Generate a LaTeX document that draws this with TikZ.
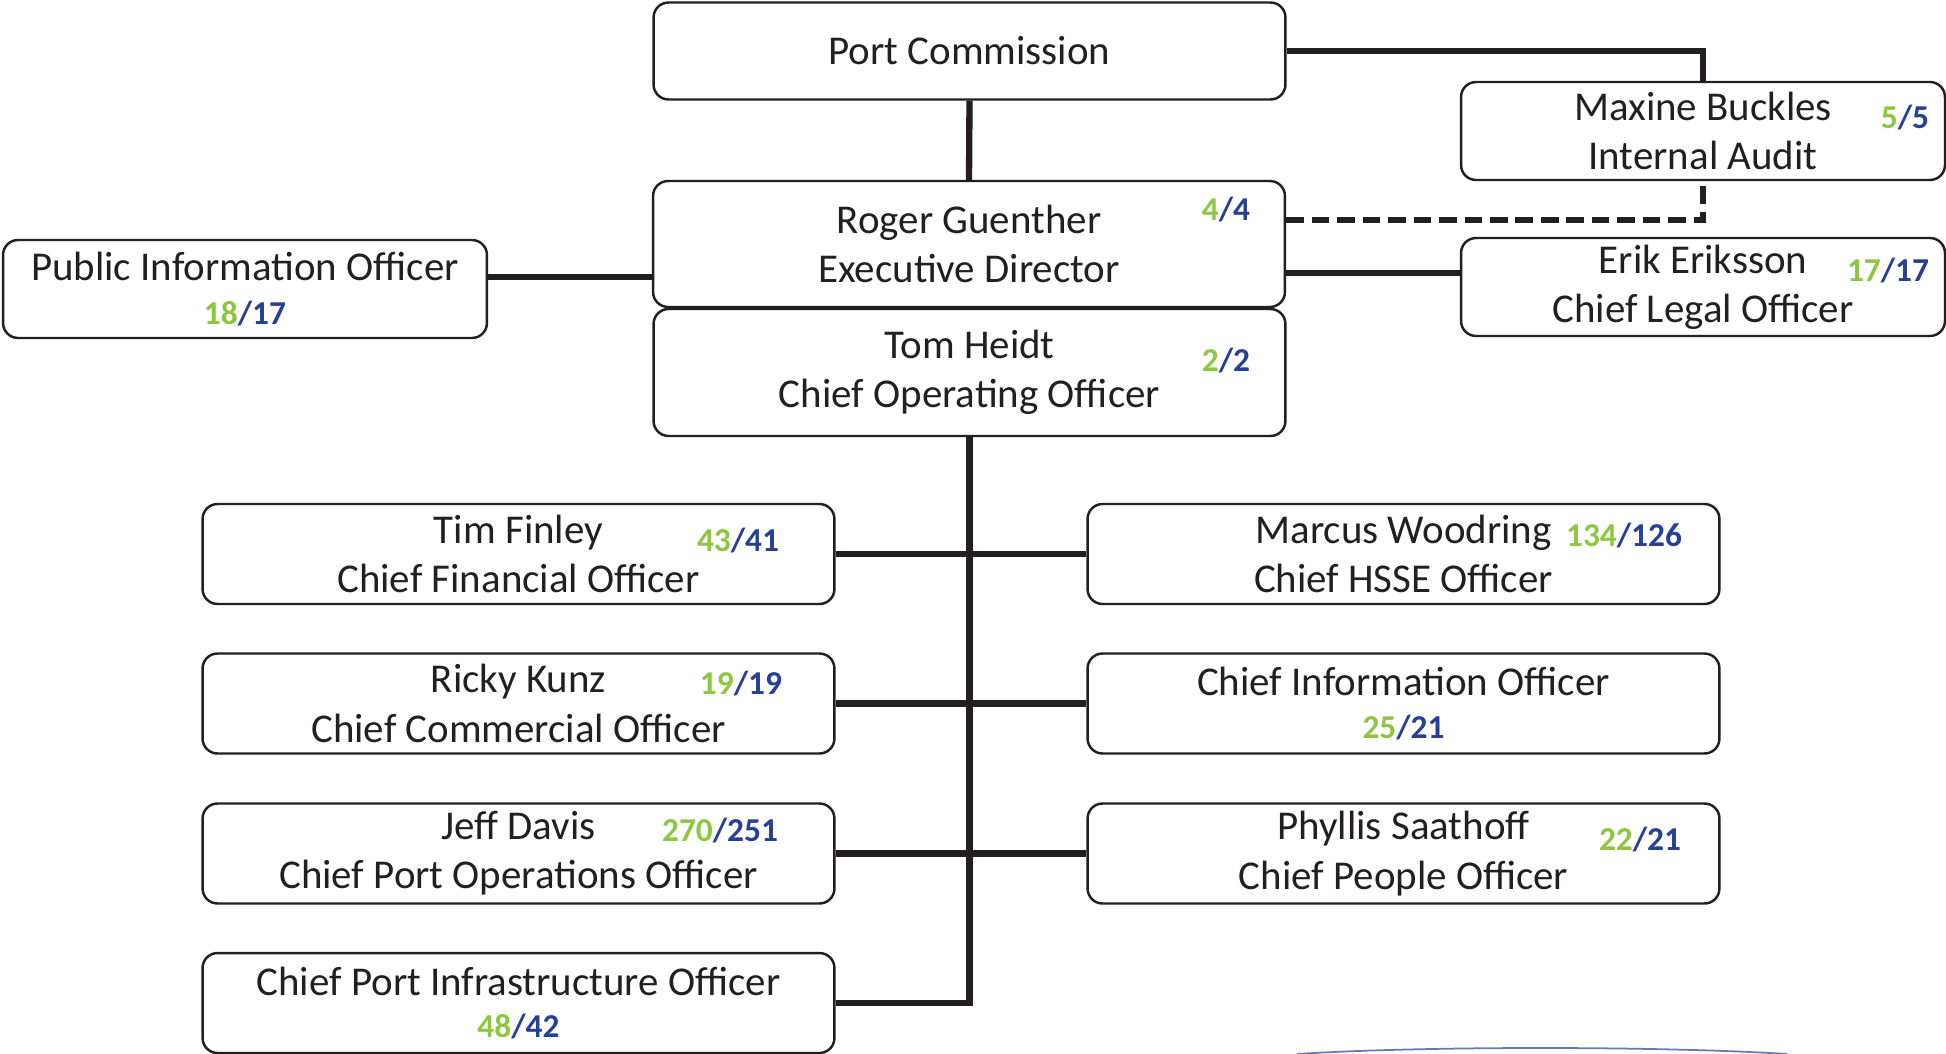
\documentclass[tikz,border=0pt]{standalone}
\usepackage{fontspec}
\setmainfont{Carlito}
\usetikzlibrary{positioning,calc}
\definecolor{cntgreen}{RGB}{141,198,63}
\definecolor{cntblue}{RGB}{38,64,152}
\definecolor{inkgray}{RGB}{35,31,32}
\newcommand{\cnt}[2]{{\fontsize{19}{20}\selectfont\bfseries\textcolor{cntgreen}{#1}\textcolor{cntblue}{/#2}}}
\tikzset{
  box/.style={draw=inkgray, line width=1.4pt, rounded corners=0.3cm, align=center,
    text=inkgray, font=\fontsize{23.3}{28}\selectfont, inner sep=0pt},
  wide/.style={box, minimum width=12.64cm, minimum height=2cm},
  narrow/.style={box, minimum width=9.68cm, minimum height=1.96cm},
  link/.style={line width=3.6pt, draw=inkgray},
  dotlink/.style={link, dash pattern=on 10pt off 4.5pt},
}

\begin{document}
\begin{tikzpicture}[x=0.02cm,y=-0.02cm]
\useasboundingbox (0,0) rectangle (1946,1054);
% top of the chart
\node[wide, minimum height=1.94cm] (pc) at (969.5,51) {Port Commission};
\node[wide, minimum height=2.52cm] (ed) at (969,244) {Roger Guenther\\Executive Director};
\node[wide, minimum height=2.54cm] (coo) at (969.5,372.5) {Tom Heidt\\Chief Operating Officer};
\node[narrow] (audit) at (1703,131) {Maxine Buckles\\Internal Audit};
\node[narrow] (legal) at (1703,287) {Erik Eriksson\\Chief Legal Officer};
\node[narrow] (pio) at (245,289) {Public Information Officer\\[-3pt]\cnt{18}{17}};
\node (n-ed) at (1226,210) {\cnt{4}{4}};
\node (n-coo) at (1226,361) {\cnt{2}{2}};
\node (n-audit) at (1905,118) {\cnt{5}{5}};
\node (n-legal) at (1888,271) {\cnt{17}{17}};
% chiefs
\node[wide] (cfo) at (518.5,554) {Tim Finley\\Chief Financial Officer};
\node[wide] (cco) at (518.5,703.5) {Ricky Kunz\\Chief Commercial Officer};
\node[wide] (cpoo) at (518.5,853.5) {Jeff Davis\\Chief Port Operations Officer};
\node[wide] (cpio) at (518.5,1003) {Chief Port Infrastructure Officer\\[-4pt]\cnt{48}{42}};
\node[wide] (hsse) at (1403.5,554) {Marcus Woodring\\Chief HSSE Officer};
\node[wide] (cio) at (1403.5,703.5) {Chief Information Officer\\[-4pt]\cnt{25}{21}};
\node[wide] (cpo) at (1403.5,853.5) {Phyllis Saathoff\\Chief People Officer};
\node (n-cfo) at (738,541) {\cnt{43}{41}};
\node (n-hsse) at (1624,536) {\cnt{134}{126}};
\node (n-cco) at (741,684) {\cnt{19}{19}};
\node (n-cpoo) at (720,831) {\cnt{270}{251}};
\node (n-cpo) at (1640,840) {\cnt{22}{21}};

\draw[link] (pc.south) -- (ed.north);
\draw[link] (pc.east) -| (audit.north);
\draw[dotlink] ([yshift=0.48cm]ed.east) -| (audit.south);
\draw[link] ([yshift=-0.58cm]ed.east) -- ([yshift=-0.58cm]ed.east -| legal.west);
\draw[link] ([yshift=-0.66cm]ed.west) -- ([yshift=-0.66cm]ed.west -| pio.east);
\draw[link] (coo.south) -- (coo.south |- cpio.east) -- (cpio.east);
\draw[link] (cfo.east) -- (hsse.west);
\draw[link] (cco.east) -- (cio.west);
\draw[link] (cpoo.east) -- (cpo.west);
% edge of the logo
\draw[cntblue!70, line width=1pt] (1297,1054) .. controls (1420,1046) and (1660,1046) .. (1787,1054);
\end{tikzpicture}
\end{document}
